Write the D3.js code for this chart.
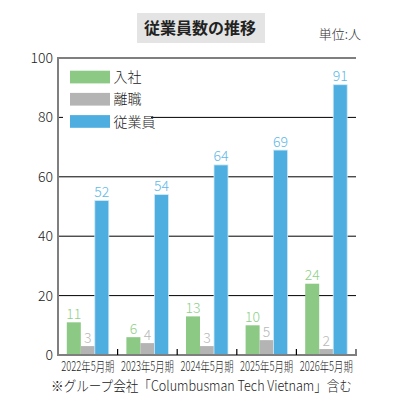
<!DOCTYPE html>
<html>
<head>
<meta charset="utf-8">
<script src="https://cdn.jsdelivr.net/npm/d3@7"></script>
<style>
  body { margin: 0; background: #fff; }
  svg { display: block; font-family: "Noto Sans CJK JP", "Noto Sans", sans-serif; }
</style>
</head>
<body>
<div id="chart"></div>
<script>
const years = ["2022年5月期", "2023年5月期", "2024年5月期", "2025年5月期", "2026年5月期"];
const series = ["入社", "離職", "従業員"];
const hires = [11, 6, 13, 10, 24];
const leavers = [3, 4, 3, 5, 2];
const staff = [52, 54, 64, 69, 91];
const yTicks = [0, 20, 40, 60, 80, 100];

const colors = { "入社": "#8cc985", "離職": "#b4b4b4", "従業員": "#4eaee0" };
const labelColors = { "入社": "#8fd08a", "離職": "#b8b8b8", "従業員": "#62b8e8" };

const w = 400, h = 401;
const plotLeft = 58, plotRight = 356, plotTop = 58, plotBottom = 355;

const svg = d3.select("#chart").append("svg")
    .attr("width", w)
    .attr("height", h);

// title
svg.append("rect")
    .attr("x", 137).attr("y", 13)
    .attr("width", 128).attr("height", 30)
    .attr("fill", "#e3e4e3");
svg.append("text")
    .attr("x", 200).attr("y", 34)
    .attr("text-anchor", "middle")
    .attr("font-size", 16)
    .attr("font-weight", "bold")
    .attr("fill", "#222")
    .text("従業員数の推移");
svg.append("text")
    .attr("x", 361).attr("y", 39)
    .attr("text-anchor", "end")
    .attr("font-size", 13)
    .attr("font-weight", 300)
    .attr("fill", "#333")
    .text("単位:人");

const x = d3.scaleBand().domain(years).range([plotLeft, plotRight]);
const xs = d3.scaleBand().domain(series).range([8.8, 50.8]);
const y = d3.scaleLinear().domain([0, 100]).range([plotBottom, plotTop]);

// gridlines
svg.append("g").selectAll("line")
    .data(yTicks.filter(d => d > 0 && d < 100))
    .enter().append("line")
    .attr("x1", plotLeft).attr("x2", plotRight)
    .attr("y1", d => y(d)).attr("y2", d => y(d))
    .attr("stroke", "#000")
    .attr("stroke-width", 1);

// y labels
svg.append("g").selectAll("text")
    .data(yTicks)
    .enter().append("text")
    .attr("x", 53)
    .attr("y", d => y(d))
    .attr("dy", "0.36em")
    .attr("text-anchor", "end")
    .attr("font-size", 14)
    .attr("font-weight", 300)
    .attr("fill", "#222")
    .text(d => d);

// legend (white box over gridlines)
svg.append("rect")
    .attr("x", 63).attr("y", 64)
    .attr("width", 88).attr("height", 68)
    .attr("fill", "#fff");
const legend = svg.append("g").selectAll("g")
    .data(series)
    .enter().append("g")
    .attr("transform", (d, i) => `translate(70, ${70.7 + i * 22.2})`);
legend.append("rect")
    .attr("width", 40).attr("height", 12.7)
    .attr("fill", d => colors[d]);
legend.append("text")
    .attr("x", 43.5).attr("y", 6.5)
    .attr("dy", "0.36em")
    .attr("font-size", 14)
    .attr("font-weight", 300)
    .attr("fill", "#222")
    .text(d => d);

// bars
const rows = years.map((yr, i) => ({ year: yr, values: [hires[i], leavers[i], staff[i]] }));
const groups = svg.append("g").selectAll("g")
    .data(rows)
    .enter().append("g")
    .attr("transform", d => `translate(${x(d.year)},0)`);

const cells = groups.selectAll("g")
    .data(d => d.values.map((v, j) => ({ key: series[j], value: v })))
    .enter().append("g");

cells.append("rect")
    .attr("x", d => xs(d.key))
    .attr("width", xs.bandwidth())
    .attr("y", d => y(d.value))
    .attr("height", d => y(0) - y(d.value))
    .attr("fill", d => colors[d.key])
    .attr("stroke", d => d.key === "従業員" ? "#cfe9f7" : "none")
    .attr("stroke-width", 0.8);

cells.append("text")
    .attr("x", d => xs(d.key) + xs.bandwidth() / 2)
    .attr("y", d => y(d.value) - 3.5)
    .attr("text-anchor", "middle")
    .attr("font-size", 14)
    .attr("font-weight", 300)
    .attr("fill", d => labelColors[d.key])
    .text(d => d.value);

// axes frame
svg.append("line")
    .attr("x1", plotLeft).attr("x2", plotRight)
    .attr("y1", plotTop).attr("y2", plotTop)
    .attr("stroke", "#7f7f7f").attr("stroke-width", 2);
svg.append("line")
    .attr("x1", plotLeft).attr("x2", plotLeft)
    .attr("y1", plotTop - 1).attr("y2", plotBottom + 1)
    .attr("stroke", "#7f7f7f").attr("stroke-width", 2);
svg.append("line")
    .attr("x1", plotLeft).attr("x2", plotRight + 1)
    .attr("y1", plotBottom).attr("y2", plotBottom)
    .attr("stroke", "#7f7f7f").attr("stroke-width", 2);

// ticks between groups
svg.append("g").selectAll("line")
    .data(years.slice(1))
    .enter().append("line")
    .attr("x1", d => x(d)).attr("x2", d => x(d))
    .attr("y1", plotBottom - 6).attr("y2", plotBottom)
    .attr("stroke", "#000").attr("stroke-width", 1.2);
svg.append("line")
    .attr("x1", plotRight).attr("x2", plotRight)
    .attr("y1", plotBottom - 6).attr("y2", plotBottom)
    .attr("stroke", "#7f7f7f").attr("stroke-width", 2);

// x labels (horizontally condensed)
svg.append("g").selectAll("text")
    .data(years)
    .enter().append("text")
    .attr("transform", d => `translate(${x(d) + x.bandwidth() / 2},370.5) scale(0.72,1)`)
    .attr("text-anchor", "middle")
    .attr("font-size", 13)
    .attr("font-weight", 300)
    .attr("fill", "#222")
    .text(d => d);

// footnote
svg.append("text")
    .attr("transform", "translate(201.5,391) scale(0.9,1)")
    .attr("text-anchor", "middle")
    .attr("font-size", 14)
    .attr("font-weight", 300)
    .attr("fill", "#222")
    .text("※グループ会社「Columbusman Tech Vietnam」含む");
</script>
</body>
</html>
